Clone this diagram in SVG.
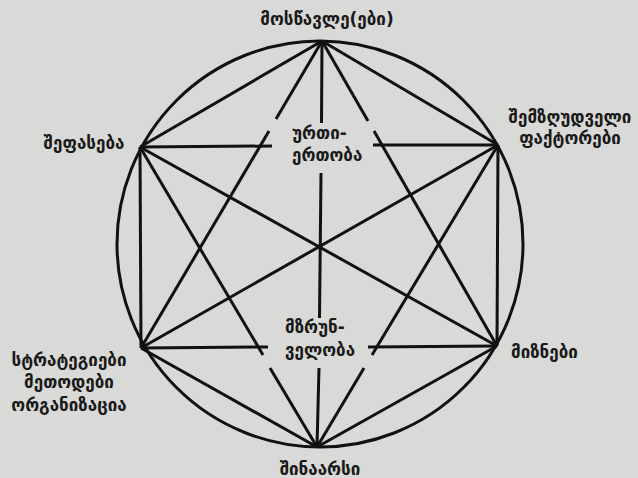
<svg xmlns="http://www.w3.org/2000/svg" width="638" height="478" viewBox="0 0 638 478">
<style>
.bg{fill:#d9d9d7}
.ln{stroke:#111;stroke-width:3;fill:none;stroke-linecap:butt}
.t{font-family:"DejaVu Sans","Noto Sans",sans-serif;font-size:17px;fill:#1a1a1a;font-weight:bold}
.c{text-anchor:middle}
</style>
<rect class="bg" x="0" y="0" width="638" height="478"/>
<g id="connectors">
<circle class="ln" cx="320" cy="244" r="203"/>
<line class="ln" x1="322" y1="41" x2="498" y2="145"/>
<line class="ln" x1="322" y1="41" x2="368" y2="121"/>
<line class="ln" x1="374" y1="131" x2="497" y2="346"/>
<line class="ln" x1="322" y1="41" x2="276" y2="119"/>
<line class="ln" x1="269" y1="131" x2="141" y2="348"/>
<line class="ln" x1="322" y1="41" x2="140" y2="147"/>
<line class="ln" x1="322" y1="41" x2="321.5" y2="123"/>
<line class="ln" x1="321" y1="173" x2="319.5" y2="318"/>
<line class="ln" x1="319" y1="368" x2="317" y2="447"/>
<line class="ln" x1="140" y1="147" x2="272" y2="146"/>
<line class="ln" x1="373" y1="145" x2="498" y2="145"/>
<line class="ln" x1="140" y1="147" x2="141" y2="348"/>
<line class="ln" x1="140" y1="147" x2="497" y2="346"/>
<line class="ln" x1="140" y1="147" x2="263" y2="355"/>
<line class="ln" x1="270" y1="368" x2="317" y2="447"/>
<line class="ln" x1="498" y1="145" x2="497" y2="346"/>
<line class="ln" x1="498" y1="145" x2="141" y2="348"/>
<line class="ln" x1="498" y1="145" x2="372" y2="355"/>
<line class="ln" x1="364" y1="368" x2="317" y2="447"/>
<line class="ln" x1="141" y1="348" x2="268" y2="347"/>
<line class="ln" x1="368" y1="347" x2="497" y2="346"/>
<line class="ln" x1="141" y1="348" x2="317" y2="447"/>
<line class="ln" x1="497" y1="346" x2="317" y2="447"/>
</g>
<g id="node-top"><text class="t c" x="327" y="25">მოსწავლე(ები)</text></g>
<g id="node-upper-left"><text class="t c" x="84" y="149">შეფასება</text></g>
<g id="node-upper-right"><text class="t c" x="570" y="123">შემზღუდველი</text><text class="t c" x="570" y="144">ფაქტორები</text></g>
<g id="node-lower-left"><text class="t c" x="69" y="366">სტრატეგიები</text><text class="t c" x="69" y="388">მეთოდები</text><text class="t c" x="69" y="411">ორგანიზაცია</text></g>
<g id="node-lower-right"><text class="t" x="511" y="358">მიზნები</text></g>
<g id="node-bottom"><text class="t c" x="320" y="475">შინაარსი</text></g>
<g id="node-center-top"><text class="t" x="292" y="139">ურთი-</text><text class="t" x="292" y="161">ერთობა</text></g>
<g id="node-center-bottom"><text class="t" x="285" y="333">მზრუნ-</text><text class="t" x="285" y="356">ველობა</text></g>
</svg>
